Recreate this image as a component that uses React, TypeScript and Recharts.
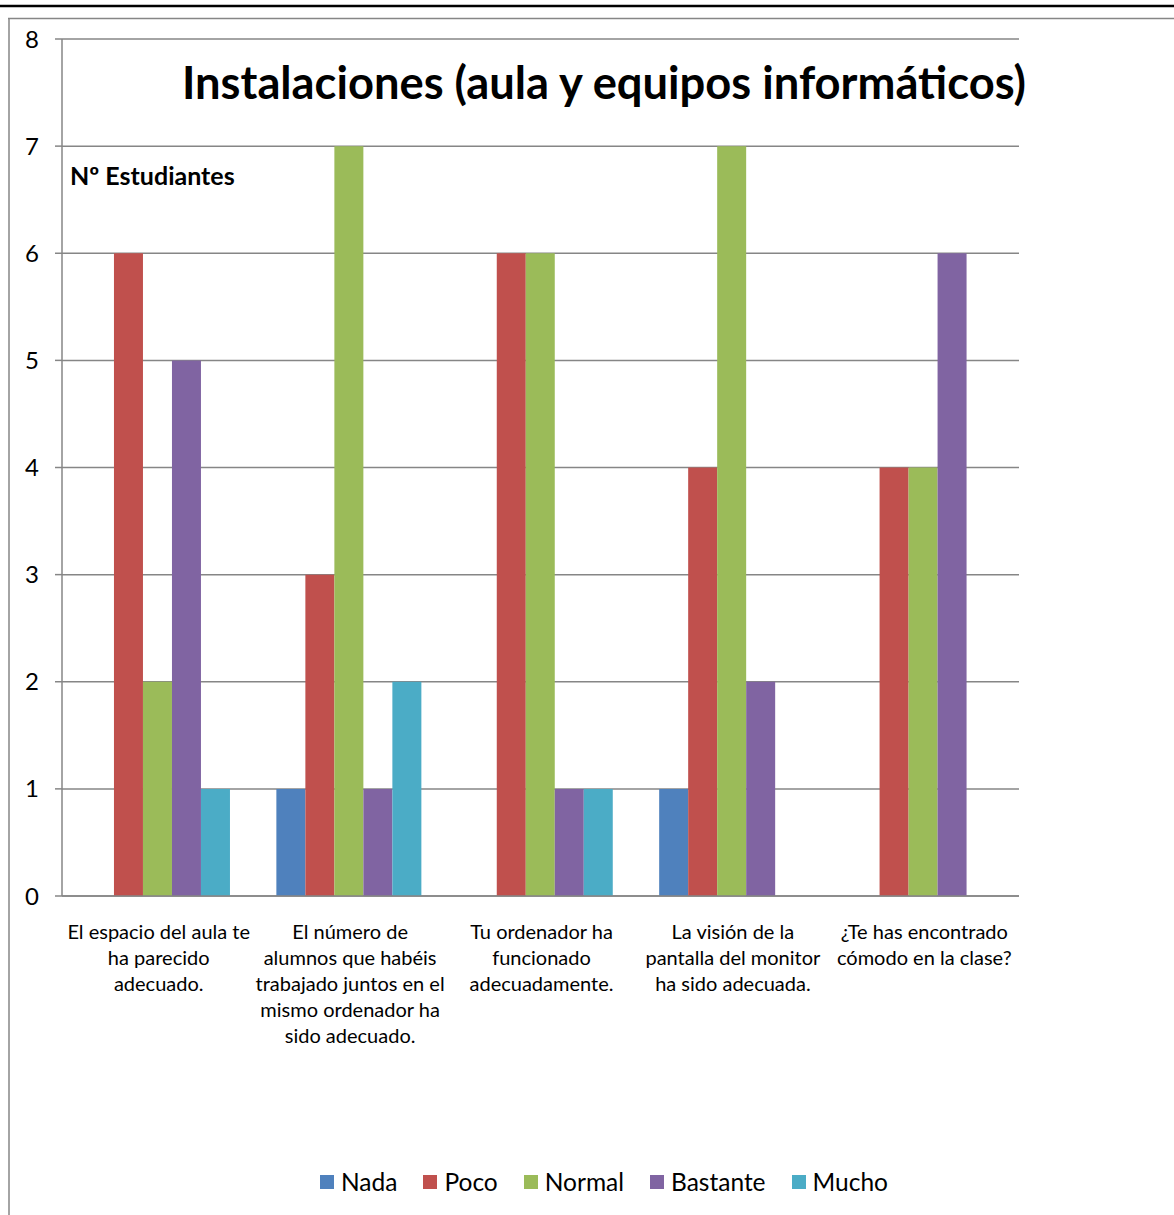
import { BarChart, Bar, XAxis, YAxis, CartesianGrid, Legend } from 'recharts';

const categoryLines = [
  ['El espacio del aula te', 'ha parecido', 'adecuado.'],
  ['El número de', 'alumnos que habéis', 'trabajado juntos en el', 'mismo ordenador ha', 'sido adecuado.'],
  ['Tu ordenador ha', 'funcionado', 'adecuadamente.'],
  ['La visión de la', 'pantalla del monitor', 'ha sido adecuada.'],
  ['¿Te has encontrado', 'cómodo en la clase?'],
];

const nada = [0, 1, 0, 1, 0];
const poco = [6, 3, 6, 4, 4];
const normal = [2, 7, 6, 7, 4];
const bastante = [5, 1, 1, 2, 6];
const mucho = [1, 2, 1, 0, 0];

const yTicks = [0, 1, 2, 3, 4, 5, 6, 7, 8];
const edgeTicks = [0, 1, 2, 3, 4, 5];

const series = [
  { key: 'Nada', values: nada, color: '#4F81BD' },
  { key: 'Poco', values: poco, color: '#C0504D' },
  { key: 'Normal', values: normal, color: '#9BBB59' },
  { key: 'Bastante', values: bastante, color: '#8064A2' },
  { key: 'Mucho', values: mucho, color: '#4BACC6' },
];

const data = categoryLines.map((lines, i) => {
  const row: Record<string, string | number> = { name: lines.join(' ') };
  series.forEach((s) => {
    row[s.key] = s.values[i];
  });
  return row;
});

const FONT = 'Lato, "Open Sans", sans-serif';
const GRID = '#868686';

function CatTick(props: any) {
  const { x, y, index } = props;
  const lines = categoryLines[index] || [];
  return (
    <text x={x} y={y} textAnchor="middle" fontSize={20} fill="#000" fontFamily={FONT}>
      {lines.map((l, i) => (
        <tspan key={i} x={x + 1} y={y + 43 + i * 26}>
          {l}
        </tspan>
      ))}
    </text>
  );
}

// legend keeps the series order (recharts sorts the payload by name)
function LegendContent() {
  return (
    <div
      style={{
        display: 'flex',
        justifyContent: 'center',
        alignItems: 'center',
        position: 'relative',
        left: 17,
        top: -1,
        fontFamily: FONT,
        fontSize: 24.5,
        color: '#000',
      }}
    >
      {series.map((s, i) => (
        <div
          key={s.key}
          style={{ display: 'flex', alignItems: 'center', marginRight: i < series.length - 1 ? 26 : 0 }}
        >
          <span style={{ width: 14, height: 14, background: s.color, marginRight: 7, display: 'inline-block' }} />
          <span>{s.key}</span>
        </div>
      ))}
    </div>
  );
}

export default function App() {
  return (
    <div
      style={{
        position: 'absolute',
        left: 0,
        top: 0,
        width: 1174,
        height: 1215,
        overflow: 'hidden',
        background: '#fff',
      }}
    >
      <BarChart
        width={1174}
        height={1215}
        data={data}
        margin={{ top: 39, right: 155, bottom: 18, left: 0 }}
        barCategoryGap="12%"
        barGap={0}
      >
        <CartesianGrid vertical={false} stroke={GRID} strokeWidth={1.5} xAxisId="cat" />
        <XAxis
          xAxisId="edges"
          type="number"
          domain={[0, 5]}
          ticks={edgeTicks}
          height={0}
          tick={false}
          axisLine={false}
          tickLine={{ stroke: GRID, strokeWidth: 1.5 }}
          tickSize={7}
        />
        <XAxis
          xAxisId="cat"
          dataKey="name"
          height={272}
          interval={0}
          tickSize={0}
          tickMargin={0}
          tickLine={false}
          axisLine={{ stroke: GRID, strokeWidth: 1.5 }}
          tick={<CatTick />}
        />
        <YAxis
          domain={[0, 8]}
          ticks={yTicks}
          width={62}
          tickSize={7}
          tickMargin={16}
          axisLine={{ stroke: GRID, strokeWidth: 1.5 }}
          tickLine={{ stroke: GRID, strokeWidth: 1.5 }}
          tick={{ fontSize: 24, fill: '#000', fontFamily: FONT }}
        />
        {series.map((s) => (
          <Bar key={s.key} dataKey={s.key} xAxisId="cat" fill={s.color} isAnimationActive={false} />
        ))}
        <Legend
          verticalAlign="bottom"
          content={<LegendContent />}
          wrapperStyle={{ left: 0, width: 1174 }}
        />
      </BarChart>
      <svg
        width={1174}
        height={1215}
        style={{ position: 'absolute', left: 0, top: 0, pointerEvents: 'none' }}
      >
        <line x1={0} y1={6} x2={1174} y2={6} stroke="#000" strokeWidth={2.5} />
        <line x1={8} y1={18.5} x2={1174} y2={18.5} stroke={GRID} strokeWidth={1.5} />
        <line x1={9} y1={18.5} x2={9} y2={1215} stroke={GRID} strokeWidth={1.5} />
        <text x={604} y={99} textAnchor="middle" fontFamily={FONT} fontWeight={700} fontSize={45.3} fill="#000">
          Instalaciones (aula y equipos informáticos)
        </text>
        <text x={70} y={185} fontFamily={FONT} fontWeight={700} fontSize={25} fill="#000">
          Nº Estudiantes
        </text>
      </svg>
    </div>
  );
}
